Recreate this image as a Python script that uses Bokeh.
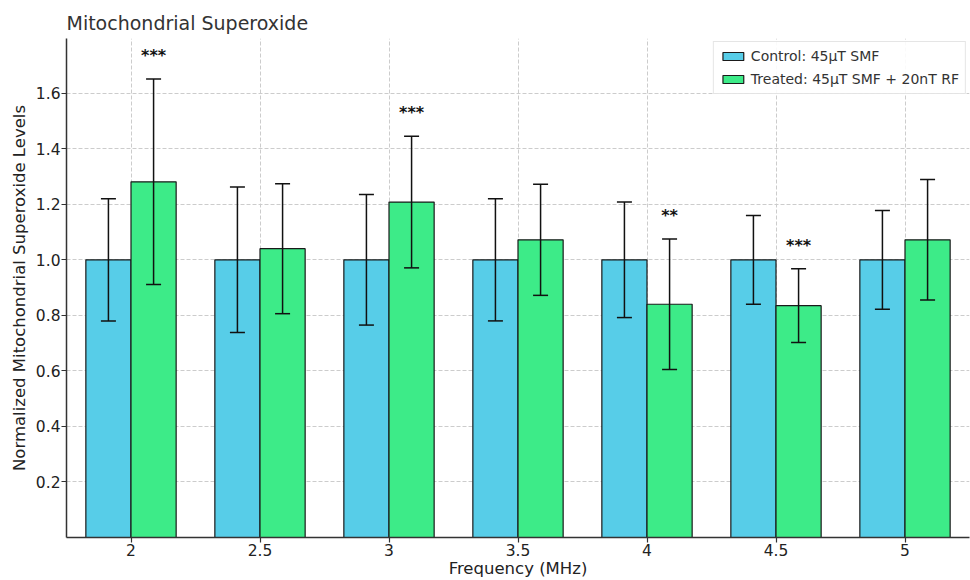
from bokeh.plotting import figure
from bokeh.models import (ColumnDataSource, FactorRange, Range1d, FixedTicker,
                          Whisker, TeeHead, Legend, LegendItem, NumeralTickFormatter)
from bokeh.transform import dodge
from bokeh.core.properties import value
from bokeh.embed import file_html
from bokeh.resources import INLINE

# Frequencies (MHz) and normalized superoxide levels (mean ± error)
freqs = ["2", "2.5", "3", "3.5", "4", "4.5", "5"]
control_mean = [1.0, 1.0, 1.0, 1.0, 1.0, 1.0, 1.0]
control_err = [0.22, 0.262, 0.235, 0.22, 0.208, 0.16, 0.178]
treated_mean = [1.281, 1.040, 1.208, 1.072, 0.840, 0.835, 1.072]
treated_err = [0.37, 0.234, 0.237, 0.20, 0.235, 0.133, 0.217]
significance = ["***", "", "***", "", "**", "***", ""]
y_ticks = [0.2, 0.4, 0.6, 0.8, 1.0, 1.2, 1.4, 1.6]

FONT = "DejaVu Sans"
CONTROL_COLOR = "#57cde8"
TREATED_COLOR = "#3deb88"
BAR_W = 0.35

src = ColumnDataSource(dict(
    freq=freqs,
    c_mean=control_mean,
    c_up=[m + e for m, e in zip(control_mean, control_err)],
    c_lo=[m - e for m, e in zip(control_mean, control_err)],
    t_mean=treated_mean,
    t_up=[m + e for m, e in zip(treated_mean, treated_err)],
    t_lo=[m - e for m, e in zip(treated_mean, treated_err)],
    star_y=[m + e + 0.085 for m, e in zip(treated_mean, treated_err)],
    stars=significance,
))

p = figure(width=970, height=580, output_backend="svg", toolbar_location=None,
           x_range=FactorRange(*freqs, range_padding=0),
           y_range=Range1d(0, 1.797),
           title="Mitochondrial Superoxide",
           min_border_left=66, min_border_right=1, min_border_top=38,
           min_border_bottom=20)

p.outline_line_color = None
p.background_fill_color = "white"
p.border_fill_color = "white"

# title
p.title.text_font = FONT
p.title.text_font_size = "19px"
p.title.text_font_style = "normal"
p.title.text_color = "#333333"
p.title.offset = 0

# grids
for g in (p.xgrid, p.ygrid):
    g.grid_line_color = "#cccccc"
    g.grid_line_dash = "4 2"
    g.grid_line_width = 1
p.ygrid.ticker = FixedTicker(ticks=y_ticks)

# axes
p.yaxis.ticker = FixedTicker(ticks=y_ticks)
p.yaxis.formatter = NumeralTickFormatter(format="0.0")
p.xaxis.axis_label = "Frequency (MHz)"
p.yaxis.axis_label = "Normalized Mitochondrial Superoxide Levels"
for ax in (p.xaxis, p.yaxis):
    ax.axis_line_color = "#333333"
    ax.axis_line_width = 1.5
    ax.major_tick_line_color = "#333333"
    ax.major_tick_line_width = 1.2
    ax.major_tick_out = 5
    ax.major_tick_in = 0
    ax.minor_tick_line_color = None
    ax.major_label_text_font = FONT
    ax.major_label_text_font_size = "15.5px"
    ax.major_label_text_color = "#222222"
    ax.axis_label_text_font = FONT
    ax.axis_label_text_font_size = "16.5px"
    ax.axis_label_text_font_style = "normal"
    ax.axis_label_text_color = "#222222"
p.xaxis.major_label_standoff = 1
p.xaxis.axis_label_standoff = 0
p.yaxis.major_label_standoff = 1
p.yaxis.axis_label_standoff = 4

# bars
r_c = p.vbar(x=dodge("freq", -BAR_W / 2, range=p.x_range), top="c_mean", width=BAR_W,
             source=src, fill_color=CONTROL_COLOR, line_color="#1a1a1a", line_width=1.2)
r_t = p.vbar(x=dodge("freq", BAR_W / 2, range=p.x_range), top="t_mean", width=BAR_W,
             source=src, fill_color=TREATED_COLOR, line_color="#1a1a1a", line_width=1.2)

# error bars, drawn above the bars
for off, up, lo in ((-BAR_W / 2, "c_up", "c_lo"), (BAR_W / 2, "t_up", "t_lo")):
    w = Whisker(source=src, base=dodge("freq", off, range=p.x_range), upper=up, lower=lo,
                line_color="#111111", line_width=1.5, level="overlay",
                upper_head=TeeHead(size=15, line_color="#111111", line_width=1.5),
                lower_head=TeeHead(size=15, line_color="#111111", line_width=1.5))
    p.add_layout(w)

# significance markers
p.text(x=dodge("freq", BAR_W / 2, range=p.x_range), y="star_y", text="stars", source=src,
       text_align="center", text_baseline="alphabetic", text_font=value(FONT),
       text_font_size="16px", text_font_style="bold", text_color="#111111")

legend = Legend(items=[
    LegendItem(label="Control: 45\u00b5T SMF", renderers=[r_c]),
    LegendItem(label="Treated: 45\u00b5T SMF + 20nT RF", renderers=[r_t]),
], location="top_right")
legend.label_text_font = FONT
legend.label_text_font_size = "14px"
legend.label_text_color = "#333333"
legend.glyph_width = 26
legend.glyph_height = 10
legend.label_height = 14
legend.spacing = 7
legend.padding = 6
legend.margin = 3
legend.border_line_color = "#cccccc"
legend.border_line_width = 1
legend.background_fill_alpha = 0.9
p.add_layout(legend)

open("out.html", "w").write(file_html(p, INLINE))
